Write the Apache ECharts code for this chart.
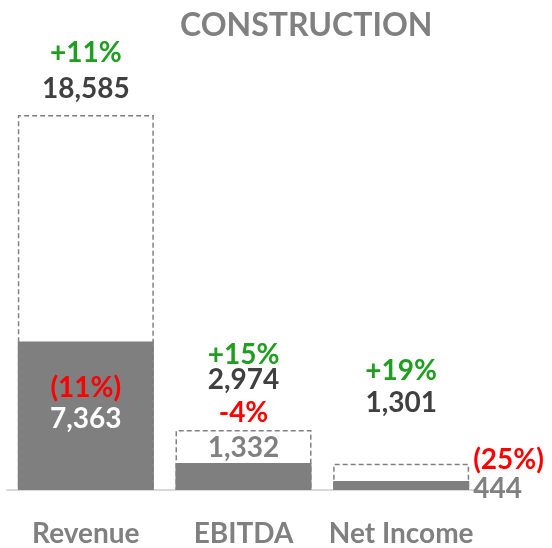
<!DOCTYPE html>
<html>
<head>
<meta charset="utf-8">
<script src="https://cdn.jsdelivr.net/npm/echarts@6/dist/echarts.min.js"></script>
<style>
  html, body { margin: 0; padding: 0; background: #fff; }
  #chart { width: 552px; height: 548px; }
</style>
</head>
<body>
<div id="chart"></div>
<script>
const categories = ['Revenue', 'EBITDA', 'Net Income']
// dashed outline bars (total) and their growth
const totalValues = [18585, 2974, 1301]
const totalGrowth = ['+11%', '+15%', '+19%']
// filled bars (segment) and their growth
const partValues = [7363, 1332, 444]
const partGrowth = ['(11%)', '-4%', '(25%)']

const GREEN = '#1f9e1f'
const RED = '#ff0000'
const GRAY = '#808080'
const DARK = '#404040'
const FONT = 'Lato'
const FS = 28

const fmt = (v) => v.toLocaleString('en-US')

// per-bar label placement
const totalLabelPos = [
  { distance: 8, lh: 36 },
  { distance: 38, lh: 25 },
  { distance: 45, lh: 32 },
]

const txt = (color, lh, extra) => Object.assign({ fontFamily: FONT, fontSize: FS, fontWeight: 'bold', color, lineHeight: lh }, extra || {})

const chart = echarts.init(document.getElementById('chart'), null, { renderer: 'canvas' })

chart.setOption({
  animation: false,
  title: {
    text: 'CONSTRUCTION',
    left: 175,
    top: 5,
    textStyle: { fontFamily: FONT, fontSize: 32, fontWeight: 'bold', color: GRAY },
  },
  grid: { left: 7, right: 72, top: 115, bottom: 58 },
  xAxis: {
    type: 'category',
    data: categories,
    axisLine: { lineStyle: { color: '#d9d9d9', width: 2 } },
    axisTick: { show: false },
    axisLabel: { interval: 0, fontFamily: FONT, fontSize: FS, fontWeight: 'bold', color: GRAY, margin: 30 },
  },
  yAxis: {
    type: 'value',
    min: 0,
    max: 18585,
    show: false,
    splitLine: { show: false },
  },
  series: [
    {
      type: 'bar',
      barWidth: 136,
      barGap: '-100%',
      z: 1,
      itemStyle: { color: '#ffffff', borderColor: GRAY, borderWidth: 1.5, borderType: [5, 3] },
      data: totalValues.map((v, i) => ({
        value: v,
        label: {
          show: true,
          position: 'top',
          distance: totalLabelPos[i].distance,
          formatter: '{g|' + totalGrowth[i] + '}\n{v|' + fmt(v) + '}',
          rich: {
            g: txt(GREEN, totalLabelPos[i].lh),
            v: txt(DARK, totalLabelPos[i].lh),
          },
        },
      })),
    },
    {
      type: 'bar',
      barWidth: 136,
      z: 2,
      itemStyle: { color: '#7f7f7f' },
      data: [
        {
          value: partValues[0],
          label: {
            show: true, position: 'insideTop', distance: 31,
            formatter: '{r|' + partGrowth[0] + '}\n{w|' + fmt(partValues[0]) + '}',
            rich: { r: txt(RED, 31), w: txt('#ffffff', 31) },
          },
        },
        {
          value: partValues[1],
          label: {
            show: true, position: 'top', distance: 2, offset: [0, 4],
            formatter: '{r|' + partGrowth[1] + '}\n{w|' + fmt(partValues[1]) + '}',
            rich: { r: txt(RED, 35), w: txt(GRAY, 35) },
          },
        },
        {
          value: partValues[2],
          label: {
            show: true, position: 'right', distance: 4, offset: [0, -11],
            formatter: '{r|' + partGrowth[2] + '}\n{w|' + fmt(partValues[2]) + '}',
            rich: { r: txt(RED, 29, { align: 'left' }), w: txt(GRAY, 29, { align: 'left' }) },
          },
        },
      ],
    },
  ],
})
</script>
</body>
</html>
